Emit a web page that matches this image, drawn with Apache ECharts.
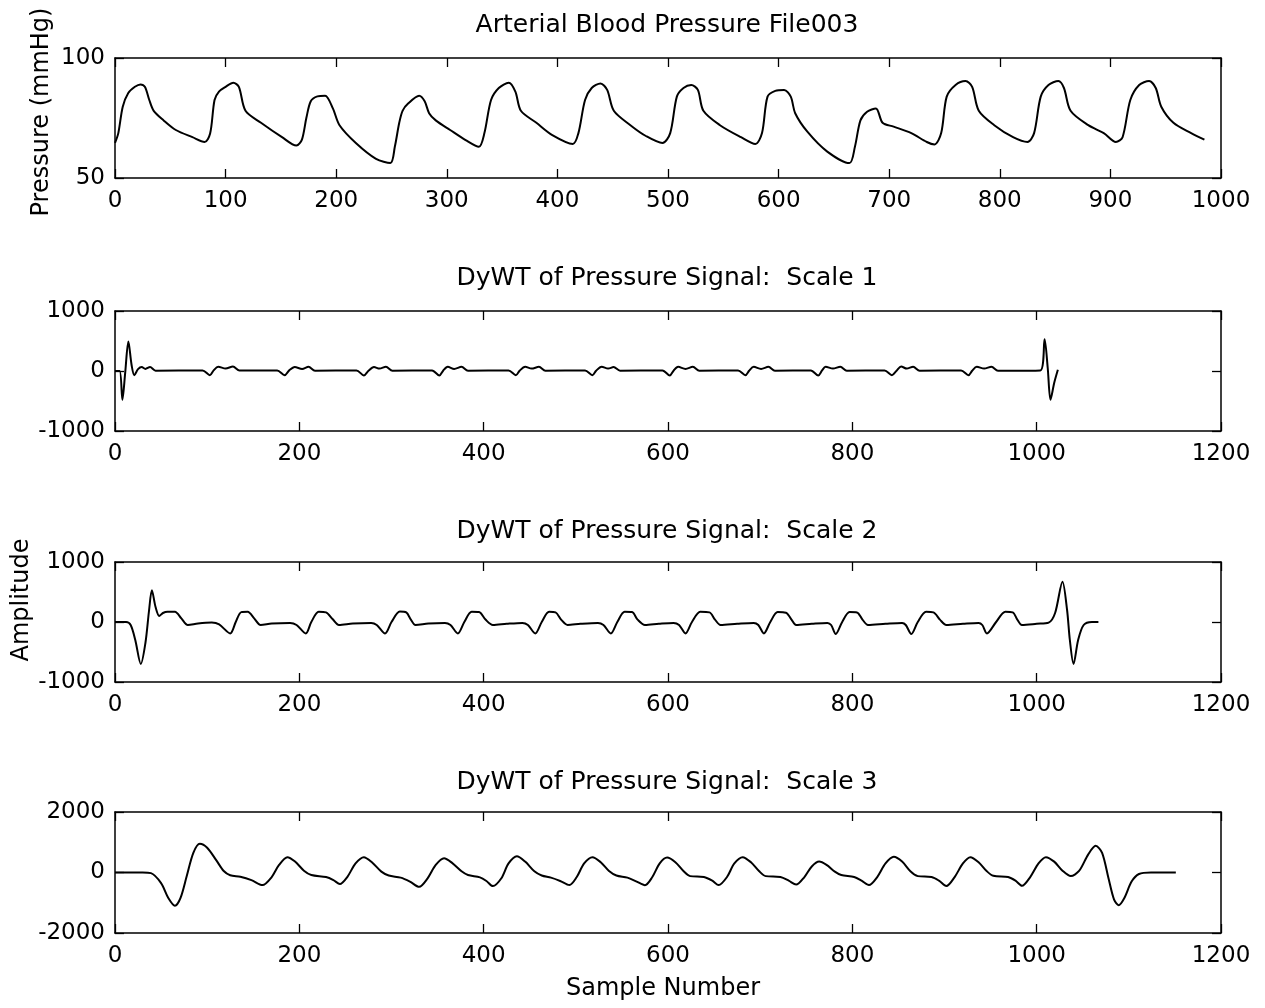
<!DOCTYPE html>
<html><head><meta charset="utf-8">
<script src="https://cdn.jsdelivr.net/npm/echarts@6/dist/echarts.min.js"></script>
<style>html,body{margin:0;background:#fff}#c{width:1265px;height:1008px}</style>
</head><body><div id="c"></div>
<script>
// ---- Panel titles / axis names ----
const panelTitles = [
  'Arterial Blood Pressure File003',
  'DyWT of Pressure Signal:  Scale 1',
  'DyWT of Pressure Signal:  Scale 2',
  'DyWT of Pressure Signal:  Scale 3'
];
const xAxisName = 'Sample Number';
const yNameTop = 'Pressure (mmHg)';
const yNameMid = 'Amplitude';

// ---- Axis ranges ----
const xMax = [1000, 1200, 1200, 1200];
const xStep = [100, 200, 200, 200];
const yMin = [50, -1000, -1000, -2000];
const yMax = [100, 1000, 1000, 2000];
const yStep = [50, 1000, 1000, 2000];

// ---- Panel 1: arterial blood pressure (mmHg) ----
const abpSample = [0,3,7,12,18,23,27,31,35,44,55,70,81,
  86,90,94,100,107,112,118,132,151,164,
  169,173,177,183,190,197,203,218,236,249,
  253,257,260,265,275,280,284,290,303,317,329,
  334,340,347,356,362,367,381,395,414,
  419,425,431,439,445,451,466,480,495,
  502,508,514,521,527,532,547,566,579,
  585,590,597,605,611,615,626,644,664,
  669,674,680,688,694,704,720,734,741,
  747,752,760,769,775,781,795,812,825,
  831,837,844,853,858,864,880,894,905,
  911,918,926,935,941,946,957,973,985];
const abpValue = [64.6,68.7,79.7,85.4,88,89,88,82.5,78,74,70,67,65,
  68.5,82.5,86,88,89.7,88,78,73,67,63.5,
  66,75,82,84,84.3,79,72,64.5,58,56.2,
  63,73,78,81,84.3,82,77,74,70,65.8,63,
  68.7,82.5,87.5,89.7,86,78,73,68,64.2,
  68.7,82.5,87.5,89.4,86.7,78,72,67.5,64.6,
  68.7,83.9,87.5,88.75,86.7,78,72,67,64.2,
  68.7,83.9,86.3,86.7,83.9,77,69.3,61,56.2,
  63,74,77.6,79,73,71.4,68.7,65,64,
  68.7,83.9,88.75,90.4,88,78,72,67,65,
  68.7,83.9,88.75,90.4,87.5,78,72,68.7,65,
  67,82.5,88.75,90.4,87.5,79.7,73,68.7,66];

// ---- Panel 2: DyWT scale 1 ----
const s1Sample = [0,5,8,11,14.5,18,21,25,29,33,38,44,95,
  103,107,112,120,128,135,176,
  184,189,195,203,210,217,262,
  270,275,281,287,294,301,344,
  352,356,361,368,376,383,427,
  435,439,445,452,460,467,510,
  518,522,528,535,541,548,594,
  602,606,611,619,627,634,676,
  684,688,693,701,709,716,755,
  763,767,771,779,787,794,835,
  843,848,853,859,866,873,918,
  926,930,935,943,951,958,1004,
  1008.6,1012,1015,1019,1023];
const s1Value = [0,0,-480,-40,490,100,-70,30,65,35,65,5,10,
  -70,10,70,40,75,10,10,
  -70,10,65,35,70,5,10,
  -75,5,65,40,70,5,10,
  -75,5,70,35,70,5,10,
  -70,5,70,40,70,5,10,
  -70,5,70,40,65,5,10,
  -75,5,70,35,70,5,10,
  -70,5,70,35,70,5,10,
  -75,5,70,40,70,5,10,
  -70,5,75,40,70,5,10,
  -70,5,70,40,70,5,10,
  530,50,-480,-200,20];

// ---- Panel 3: DyWT scale 2 ----
const s2Sample = [0,12,17,22,28,33,37,40,44,48,52,57,65,72,79,90,105,113,
  125,131,137,144,151,158,170,190,197,
  207,213,221,229,236,243,258,278,284,
  293,300,309,316,321,326,340,358,364,
  372,379,387,395,402,410,425,442,448,
  456,463,471,478,484,491,505,524,530,
  538,545,553,561,567,575,590,606,612,
  619,626,635,645,651,657,675,693,698,
  704,711,719,728,734,739,756,773,777,
  782,789,797,805,811,817,836,854,858,
  864,871,880,888,895,902,920,937,941,
  946,956,966,974,979,984,1000,1013,1020,1028,1033,1036,1040,1045,1051,1060,1067];
const s2Value = [0,0,-50,-300,-700,-350,200,530,250,100,150,172,172,60,-50,-25,-10,-40,
  -190,0,165,170,60,-50,-25,-15,-50,
  -190,0,170,160,50,-50,-25,-15,-50,
  -190,0,175,160,40,-50,-25,-15,-50,
  -190,0,170,165,40,-50,-30,-15,-50,
  -190,0,170,160,40,-50,-30,-15,-50,
  -190,0,170,165,40,-50,-30,-15,-50,
  -190,0,170,160,40,-50,-30,-15,-50,
  -190,0,165,155,40,-50,-30,-15,-50,
  -200,0,165,160,40,-50,-30,-15,-50,
  -200,0,170,160,40,-50,-30,-15,-50,
  -190,0,170,160,40,-50,-30,-10,150,672,200,-300,-700,-300,-50,0,0];

// ---- Panel 4: DyWT scale 3 ----
const s3Sample = [0,30,39,50,58,65,71,78,85,92,100,110,118,125,136,148,160,
  170,178,187,195,205,213,229,237,244,
  252,261,270,279,289,297,310,320,330,
  339,348,357,366,376,383,396,403,410,
  419,427,436,445,455,463,473,483,493,
  501,509,518,527,536,544,556,566,575,
  583,591,599,608,617,624,639,648,655,
  664,672,681,690,699,706,722,731,739,
  748,756,764,772,781,788,802,810,818,
  827,836,845,854,863,871,886,894,902,
  911,920,928,937,946,953,969,977,984,
  993,1002,1010,1019,1028,1037,1046,1056,1064,1071,1078,1084,1089,1095,1103,1111,1124,1151];
const s3Value = [0,0,-20,-350,-850,-1100,-850,-100,650,950,820,400,50,-90,-140,-250,-417,
  -150,250,507,370,60,-83,-150,-250,-383,
  -150,300,507,330,30,-100,-170,-300,-473,
  -200,250,473,310,40,-83,-160,-280,-450,
  -200,300,540,360,40,-100,-170,-280,-417,
  -150,300,507,340,50,-100,-170,-300,-420,
  -150,300,493,340,40,-120,-150,-270,-417,
  -150,300,507,340,40,-120,-150,-270,-400,
  -150,200,360,250,30,-83,-150,-270,-417,
  -150,300,520,360,40,-120,-150,-270,-450,
  -150,300,507,340,40,-110,-150,-270,-440,
  -150,300,507,360,60,-117,50,600,883,650,-200,-900,-1083,-850,-300,-50,0,0];

const samples = [abpSample, s1Sample, s2Sample, s3Sample];
const values = [abpValue, s1Value, s2Value, s3Value];

// ---- Layout (pixels) ----
const gridTops = [58, 311, 562, 812];
const gridHeights = [120, 120, 120, 121];
const GL = 115, GW = 1106;
const FONT = 'DejaVu Sans';
const black = '#000';
const plain = function (v) { return String(v); };

const grids = [], xAxes = [], yAxes = [], series = [];
for (let i = 0; i < 4; i++) {
  grids.push({left: GL, width: GW, top: gridTops[i], height: gridHeights[i], containLabel: false});
  [false, true].forEach(function (alt) {
    xAxes.push({
      type: 'value', gridIndex: i, min: 0, max: xMax[i], interval: xStep[i],
      position: alt ? 'top' : 'bottom',
      axisLine: {show: true, onZero: false, lineStyle: {color: black, width: 1.5}},
      axisTick: {show: true, inside: true, length: 9, lineStyle: {color: black, width: 1.3}},
      axisLabel: {show: !alt, color: black, fontFamily: FONT, fontSize: 23, margin: 12, formatter: plain},
      splitLine: {show: false}
    });
    yAxes.push({
      type: 'value', gridIndex: i, min: yMin[i], max: yMax[i], interval: yStep[i],
      position: alt ? 'right' : 'left',
      axisLine: {show: true, onZero: false, lineStyle: {color: black, width: 1.5}},
      axisTick: {show: true, inside: true, length: 9, lineStyle: {color: black, width: 1.3}},
      axisLabel: {show: !alt, color: black, fontFamily: FONT, fontSize: 23, margin: 10, formatter: plain},
      splitLine: {show: false}
    });
  });
  const pts = samples[i].map(function (s, k) { return [s, values[i][k]]; });
  series.push({
    type: 'line', xAxisIndex: i * 2, yAxisIndex: i * 2, data: pts,
    showSymbol: false, smooth: 0.3, silent: true,
    lineStyle: {color: black, width: 2}
  });
}

const titleY = [25, 278, 531, 782];
const graphics = panelTitles.map(function (t, i) {
  return {type: 'text', x: 667, y: titleY[i],
    style: {text: t, fill: black, font: '25px "' + FONT + '"', textAlign: 'center', textVerticalAlign: 'middle'}};
});
graphics.push({type: 'text', x: 663, y: 989,
  style: {text: xAxisName, fill: black, font: '24px "' + FONT + '"', textAlign: 'center', textVerticalAlign: 'middle'}});
graphics.push({type: 'text', x: 42, y: 112, rotation: Math.PI / 2,
  style: {text: yNameTop, fill: black, font: '24px "' + FONT + '"', textAlign: 'center', textVerticalAlign: 'middle'}});
graphics.push({type: 'text', x: 22, y: 600, rotation: Math.PI / 2,
  style: {text: yNameMid, fill: black, font: '24px "' + FONT + '"', textAlign: 'center', textVerticalAlign: 'middle'}});

const chart = echarts.init(document.getElementById('c'), null, {renderer: 'canvas'});
chart.setOption({
  animation: false,
  backgroundColor: '#fff',
  grid: grids, xAxis: xAxes, yAxis: yAxes, series: series,
  graphic: graphics
});
</script></body></html>
